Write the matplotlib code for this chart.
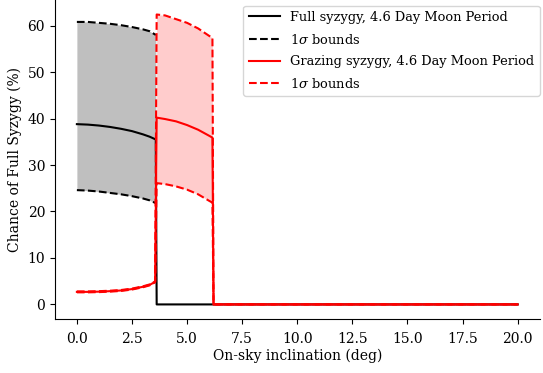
"""
Chance of full / grazing syzygy vs on-sky inclination (4.6 day moon period).
"""

import matplotlib
matplotlib.use("Agg")
import matplotlib.pyplot as plt

plt.rcParams["font.family"] = ["DejaVu Serif"]
plt.rcParams["mathtext.fontset"] = "dejavuserif"

# --- Full syzygy (black) ---
x_full = [0.0, 0.5, 1.0, 1.5, 2.0, 2.5, 3.0, 3.3, 3.58, 3.62, 20.0]
full_mid = [38.8, 38.7, 38.5, 38.2, 37.8, 37.3, 36.6, 36.1, 35.5, 0.0, 0.0]
x_full_b = [0.0, 0.5, 1.0, 1.5, 2.0, 2.5, 3.0, 3.3, 3.58]
full_lo = [24.6, 24.5, 24.3, 24.0, 23.7, 23.3, 22.8, 22.4, 21.8]
full_hi = [60.8, 60.8, 60.6, 60.4, 60.1, 59.7, 59.2, 58.8, 58.0]

# --- Grazing syzygy (red) ---
x_graz = [0.0, 0.5, 1.0, 1.5, 2.0, 2.5, 3.0, 3.3, 3.55, 3.62,
          4.0, 4.5, 5.0, 5.5, 6.0, 6.15, 6.2, 20.0]
graz_mid = [2.7, 2.7, 2.75, 2.85, 3.0, 3.3, 3.8, 4.2, 4.85, 40.2,
            39.9, 39.4, 38.6, 37.6, 36.3, 35.9, 0.0, 0.0]
graz_lo = [2.6, 2.6, 2.65, 2.75, 2.9, 3.2, 3.7, 4.1, 4.75, 26.1,
           25.9, 25.4, 24.7, 23.7, 22.3, 21.9, 0.0, 0.0]
graz_hi = [2.8, 2.8, 2.85, 2.95, 3.1, 3.4, 3.9, 4.3, 4.95, 62.4,
           62.2, 61.4, 60.6, 59.4, 57.8, 57.4, 0.0, 0.0]
x_graz_b = [3.62, 4.0, 4.5, 5.0, 5.5, 6.0, 6.15]
graz_lo_b = [26.1, 25.9, 25.4, 24.7, 23.7, 22.3, 21.9]
graz_hi_b = [62.4, 62.2, 61.4, 60.6, 59.4, 57.8, 57.4]

fig = plt.figure(figsize=(5.43, 3.73), dpi=100)
ax = fig.add_axes([0.101, 0.145, 0.893, 0.855])

# zones d'incertitude
ax.fill_between(x_full_b, full_lo, full_hi, color="black", alpha=0.25, linewidth=0)
ax.fill_between(x_graz_b, graz_lo_b, graz_hi_b, color="red", alpha=0.2, linewidth=0)

# courbes
ax.plot(x_full, full_mid, color="black", lw=1.5, label="Full syzygy, 4.6 Day Moon Period")
ax.plot(x_full_b, full_lo, color="black", lw=1.5, ls="--", label=r"1$\sigma$ bounds")
ax.plot(x_full_b, full_hi, color="black", lw=1.5, ls="--")
ax.plot(x_graz, graz_mid, color="red", lw=1.5, label="Grazing syzygy, 4.6 Day Moon Period")
ax.plot(x_graz, graz_lo, color="red", lw=1.5, ls="--", label=r"1$\sigma$ bounds")
ax.plot(x_graz, graz_hi, color="red", lw=1.5, ls="--")

ax.set_xticks([0, 2.5, 5, 7.5, 10, 12.5, 15, 17.5, 20])
ax.set_yticks([0, 10, 20, 30, 40, 50, 60])
ax.set_xlabel("On-sky inclination (deg)", fontsize=10, labelpad=2)
ax.set_ylabel("Chance of Full Syzygy (%)", fontsize=10)
ax.tick_params(labelsize=10)
ax.tick_params(axis="x", pad=6)
ax.spines["top"].set_visible(False)
ax.spines["right"].set_visible(False)

ax.legend(loc="upper right", bbox_to_anchor=(1.0, 0.982), fontsize=9.4,
          handlelength=2.4, handletextpad=0.8, borderaxespad=0.0, labelspacing=0.66)

plt.savefig("out.png", dpi=100)
